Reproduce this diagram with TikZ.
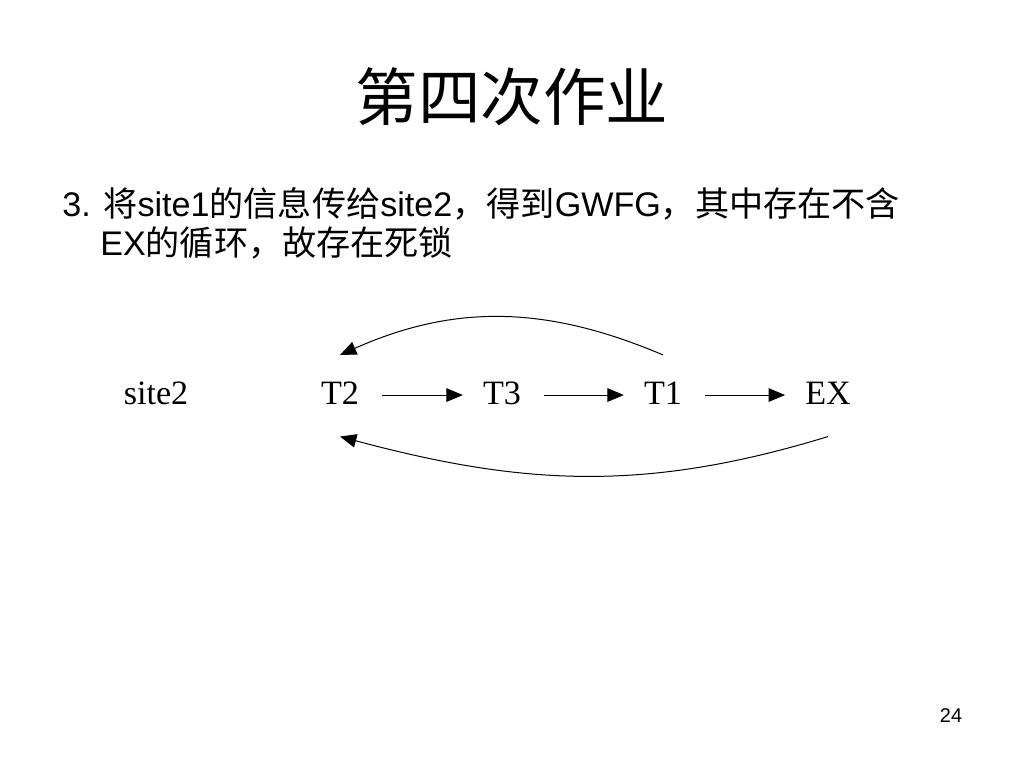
\documentclass[tikz,border=0pt]{standalone}
\usepackage{fontspec}
\setmainfont{Liberation Serif}
\newfontfamily\bodyfont{Liberation Sans}
\newfontfamily\cjk{Noto Sans CJK SC}
\usetikzlibrary{arrows.meta}
\begin{document}
\begin{tikzpicture}[x=0.703125pt,y=0.703125pt,
  lbl/.style={font=\fontsize{24}{28}\selectfont, inner xsep=0pt, inner ysep=0pt, text height=14pt, text depth=0pt, anchor=base},
  arr/.style={line width=0.7pt, -{Triangle[length=11.5pt,width=9.5pt]}},
  straight/.style={arr, shorten <=16pt, shorten >=14pt},
  bodytext/.style={font=\bodyfont\fontsize{24}{28}\selectfont, inner sep=0pt, anchor=base west}]
\useasboundingbox (0,0) rectangle (1024,768);
\fill[white] (0,0) rectangle (1024,768);
\node[font=\cjk\fontsize{44}{50}\selectfont, inner sep=0pt] (title) at (512,671) {第四次作业};
\node[bodytext] (line1) at (62,551) {3. {\cjk 将}site1{\cjk 的信息传给}site2{\cjk ，得到}GWFG{\cjk ，其中存在不含}};
\node[bodytext] (line2) at (100,512) {EX{\cjk 的循环，故存在死锁}};
\node[lbl] (site2) at (156,363) {site2};
\node[lbl] (T2) at (340,363) {T2};
\node[lbl] (T3) at (502,363) {T3};
\node[lbl] (T1) at (663,363) {T1};
\node[lbl] (EX) at (828,363) {EX};
\draw[straight] (T2.east) -- (T3.west);
\draw[straight] (T3.east) -- (T1.west);
\draw[straight] (T1.east) -- (EX.west);
\draw[arr] ([yshift=21pt]T1.north) to[out=157,in=24] ([yshift=21pt]T2.north);
\draw[arr] ([yshift=-22pt]EX.south) to[out=197,in=345] ([yshift=-22pt]T2.south);
\node[font=\bodyfont\fontsize{14}{16}\selectfont, inner sep=0pt] (page) at (951,52) {24};
\end{tikzpicture}
\end{document}
